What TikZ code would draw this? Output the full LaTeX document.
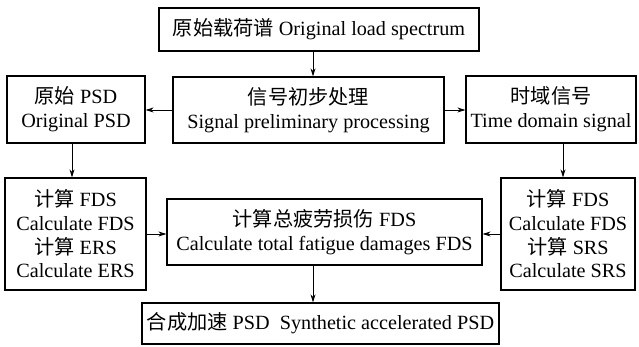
\documentclass[tikz,border=0pt]{standalone}
\usepackage{fontspec}
\setmainfont{Liberation Serif}
\newfontfamily\cjk{Noto Sans CJK SC}
\usetikzlibrary{arrows.meta}
\begin{document}
\begin{tikzpicture}[x=1pt,y=-1pt,
  box/.style={draw,line width=1.2pt,inner sep=0pt,align=center,font=\fontsize{20.2}{23.7}\selectfont},
  arr/.style={line width=0.9pt,-{Stealth[length=8pt,width=5pt]}}]
\useasboundingbox (0,0) rectangle (639,347);
\node[box,minimum width=320pt,minimum height=43pt] (top) at (319,29.5) {{\cjk 原始载荷谱} Original load spectrum};
\node[box,minimum width=271pt,minimum height=66pt] (mid) at (308.5,110) {{\cjk 信号初步处理}\\Signal preliminary processing};
\node[box,minimum width=138pt,minimum height=67pt] (left) at (76,109.5) {{\cjk 原始} PSD\\Original PSD};
\node[box,minimum width=170pt,minimum height=67pt] (right) at (551,109.5) {{\cjk 时域信号}\\Time domain signal};
\node[box,minimum width=141pt,minimum height=112pt] (lcalc) at (75.5,234) {{\cjk 计算} FDS\\Calculate FDS\\{\cjk 计算} ERS\\Calculate ERS};
\node[box,minimum width=315pt,minimum height=66pt] (ctr) at (324.5,232) {{\cjk 计算总疲劳损伤} FDS\\Calculate total fatigue damages FDS};
\node[box,minimum width=134pt,minimum height=112pt] (rcalc) at (568,234) {{\cjk 计算} FDS\\Calculate FDS\\{\cjk 计算} SRS\\Calculate SRS};
\node[box,minimum width=357pt,minimum height=41pt] (bot) at (320.5,323.5) {{\cjk 合成加速} PSD\ \ Synthetic accelerated PSD};
\coordinate (cx) at (313,0);
\coordinate (lx) at (72,0);
\coordinate (rx) at (563,0);
\draw[arr] (top.south -| cx) -- (mid.north -| cx);
\draw[arr] (mid.west) -- (mid.west -| left.east);
\draw[arr] (mid.east) -- (mid.east -| right.west);
\draw[arr] (left.south -| lx) -- (lcalc.north -| lx);
\draw[arr] (right.south -| rx) -- (rcalc.north -| rx);
\draw[arr] (lcalc.east) -- (lcalc.east -| ctr.west);
\draw[arr] (rcalc.west) -- (rcalc.west -| ctr.east);
\draw[arr] (ctr.south -| cx) -- (bot.north -| cx);
\end{tikzpicture}
\end{document}
